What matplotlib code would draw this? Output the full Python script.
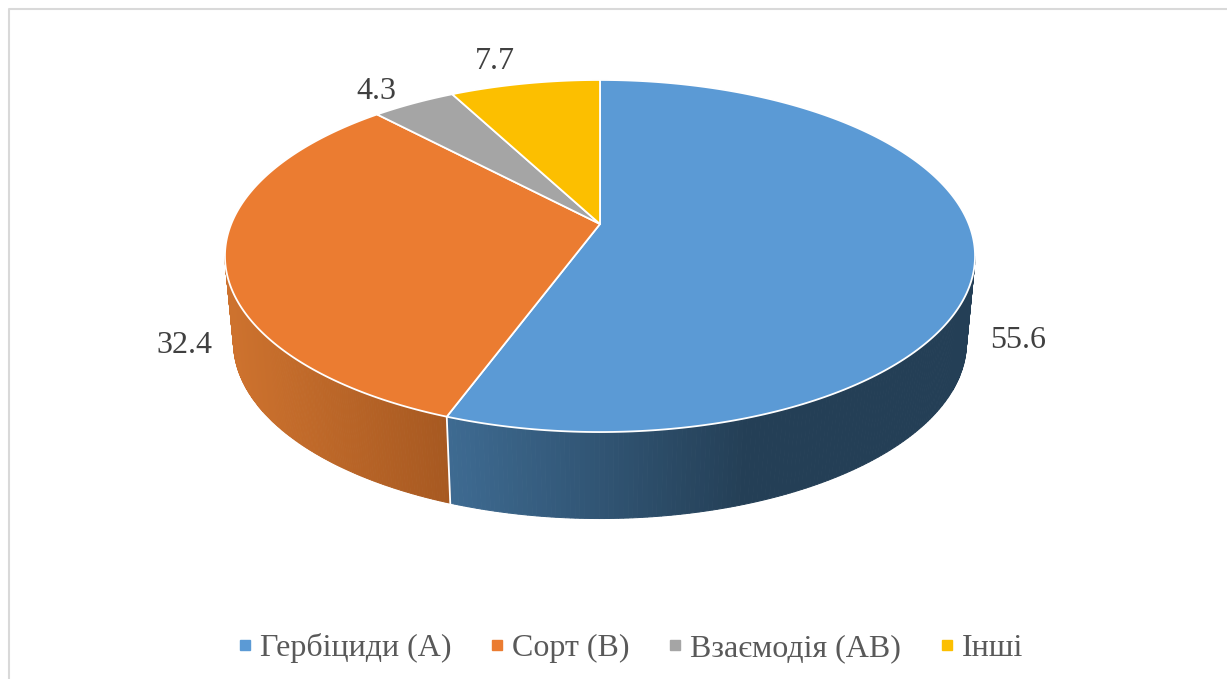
import matplotlib
matplotlib.use("Agg")
import matplotlib.pyplot as plt
from matplotlib.lines import Line2D
import numpy as np

# Chart data
categories = ["Гербіциди (А)", "Сорт (В)", "Взаємодія (АВ)", "Інші"]
values = [55.6, 32.4, 4.3, 7.7]
colors = ["#5b9ad5", "#eb7c31", "#a5a5a5", "#fcbf00"]

# Where the data labels sit (centre x, baseline y), in pixels
label_pos = [(1018, 348), (184, 353), (376, 99), (495, 69)]

# Shading of the pie wall, left to right in pixels
wall_shade = {
    0: ([447, 745], [(62, 107, 146), (36, 63, 86)]),
    1: ([235, 447], [(205, 114, 46), (167, 89, 33)]),
}

plt.rcParams["font.family"] = ["Liberation Serif", "DejaVu Serif"]

fig = plt.figure(figsize=(12.27, 6.79), dpi=100)
ax = fig.add_axes([0, 0, 1, 1])
ax.set_xlim(0, 1227)
ax.set_ylim(679, 0)
ax.axis("off")

# Chart frame, only left and top are visible in the crop
ax.plot([8.5, 8.5, 1227], [679, 8.5, 8.5], color="#d9d9d9", lw=1.5)


# Perspective projection of the unit circle, angle is clockwise from the top
def project(theta, depth=0.0):
    u, v = np.sin(theta), np.cos(theta)
    w = 1 + 0.1818 * v
    x = 368.8 * u / w
    y = (224 - 129.5 * v) / w
    if depth:
        return 600 + 0.977 * x, y + depth
    return 600 + x, y


fractions = np.array(values) / sum(values)
edges = np.concatenate([[0], np.cumsum(fractions)]) * 2 * np.pi

# Visible side wall, built from thin strips so the gradient can run across it
wall_start, wall_end = np.radians(100.5), np.radians(259.5)
for i, (shade_x, shade_rgb) in wall_shade.items():
    a0, a1 = max(edges[i], wall_start), min(edges[i + 1], wall_end)
    steps = np.linspace(a0, a1, 160)
    for t0, t1 in zip(steps[:-1], steps[1:]):
        xt, yt = project(np.array([t0, t1]))
        xb, yb = project(np.array([t1, t0]), depth=86.5)
        mid = (xt.mean() + xb.mean()) / 2
        c = [np.interp(mid, shade_x, [s[k] for s in shade_rgb]) / 255 for k in range(3)]
        ax.fill(np.r_[xt, xb], np.r_[yt, yb], color=c, lw=0.7, zorder=2)

# Seam between the two wall parts
xt, yt = project(edges[1])
xb, yb = project(edges[1], depth=86.5)
ax.plot([xt, xb], [yt, yb], color="white", lw=1.3, zorder=3)

# Top face
for i in range(len(values)):
    arc = np.linspace(edges[i], edges[i + 1], 240)
    xs, ys = project(arc)
    ax.fill(np.r_[600, xs], np.r_[224, ys], facecolor=colors[i],
            edgecolor="white", lw=1.3, joinstyle="round", zorder=4)

for val, (lx, ly) in zip(values, label_pos):
    ax.text(lx, ly, f"{val:.1f}", ha="center", va="baseline", fontsize=23,
            color="#404040", zorder=5)

handles = [Line2D([], [], ls="none", marker="s", ms=7.8, color=c) for c in colors]
ax.legend(handles, categories, ncol=4, loc="center", bbox_to_anchor=(631, 648),
          bbox_transform=ax.transData, frameon=False, fontsize=23,
          labelcolor="#595959", handlelength=0.35, handletextpad=0.3,
          columnspacing=1.25, borderpad=0, borderaxespad=0)

fig.savefig("out.png", dpi=100)
